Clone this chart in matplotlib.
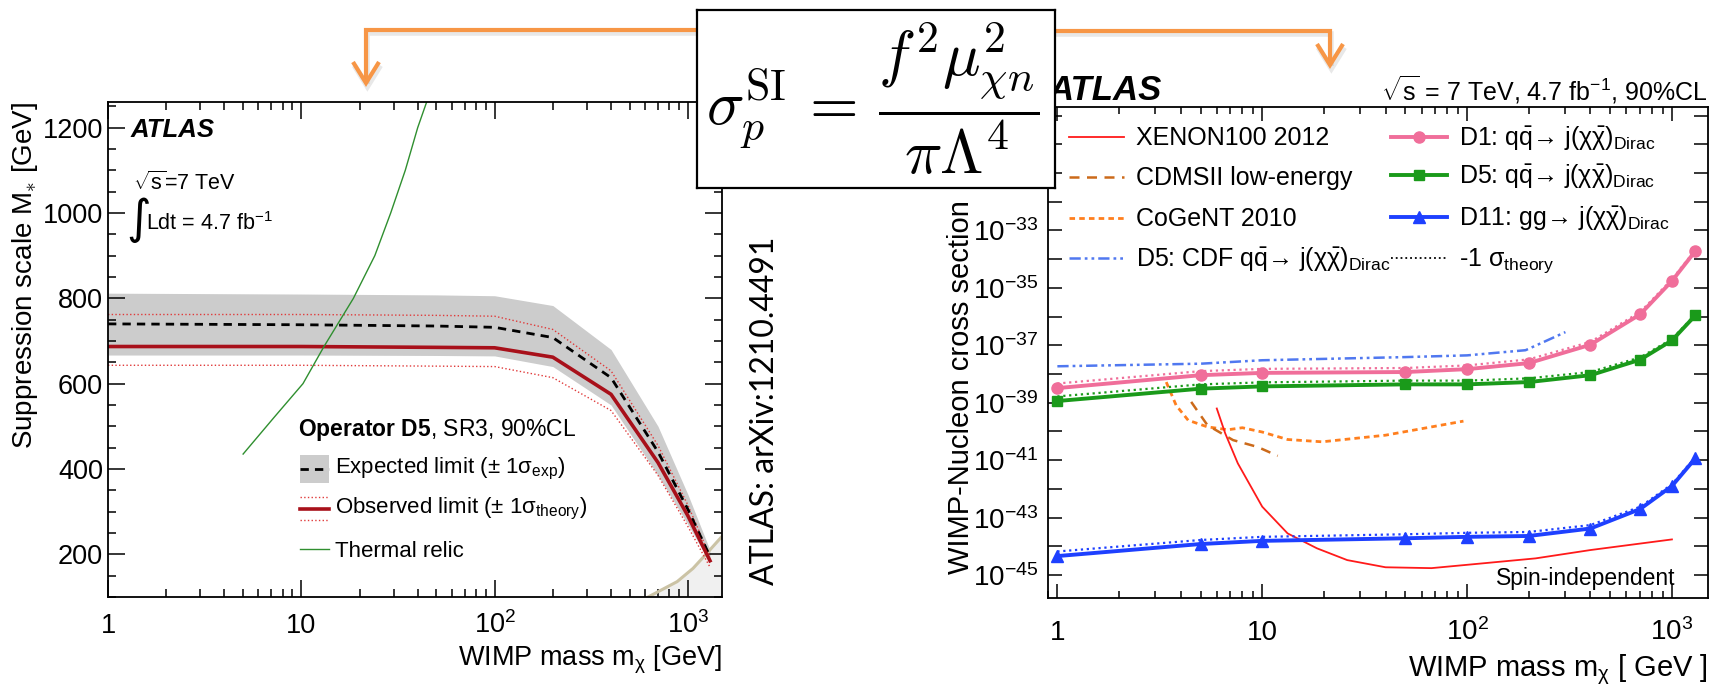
import numpy as np
import matplotlib
matplotlib.use('Agg')
import matplotlib.pyplot as plt
import matplotlib.ticker as mticker
import matplotlib.patheffects as pe
from matplotlib.lines import Line2D
from matplotlib.patches import Rectangle

W, H = 1719, 685

plt.rcParams['font.family'] = ['Liberation Sans', 'DejaVu Sans']
plt.rcParams['mathtext.fontset'] = 'custom'
plt.rcParams['mathtext.rm'] = 'Liberation Sans'
plt.rcParams['mathtext.it'] = 'Liberation Sans:italic'
plt.rcParams['mathtext.bf'] = 'Liberation Sans:bold'
plt.rcParams['mathtext.sf'] = 'Liberation Sans'

# ---- left: D5 suppression scale limits [GeV] vs WIMP mass [GeV]
d5_mass = [1, 10, 50, 100, 200, 400, 700, 1000, 1300]
d5_expected = [740, 738, 735, 732, 708, 614, 440, 305, 195]
d5_exp_up = [812, 810, 808, 806, 783, 680, 500, 340, 210]
d5_exp_dn = [667, 667, 666, 665, 640, 550, 385, 270, 180]
d5_observed = [687, 687, 685, 684, 662, 575, 415, 290, 185]
d5_obs_up = [762, 762, 760, 758, 727, 630, 455, 315, 195]
d5_obs_dn = [643, 643, 641, 640, 614, 537, 385, 265, 170]

relic_mass = [5, 7.2, 10.2, 13.1, 18.6, 24, 29, 34.5, 40, 44.5]
relic_mstar = [435, 520, 600, 687, 800, 900, 1000, 1100, 1200, 1260]

eft_mass = [622, 879, 1062, 1250, 1500]
eft_mstar = [100, 136, 167, 202, 242]

# ---- right: WIMP-nucleon cross section, log10(sigma / cm^2)
mass_pts = [1, 5, 10, 50, 100, 200, 400, 700, 1000, 1300]
d1_log = [-38.49, -38.04, -37.96, -37.93, -37.83, -37.62, -36.98, -35.92, -34.76, -33.72]
d5_log = [-38.94, -38.51, -38.43, -38.36, -38.36, -38.28, -38.04, -37.50, -36.83, -35.96]
d11_log = [-44.34, -43.92, -43.81, -43.72, -43.67, -43.64, -43.38, -42.70, -41.90, -40.94]
d1_th_log = [-38.33, -37.90, -37.82, -37.79, -37.70, -37.49, -36.88, -35.84, -34.70, -33.68]
d5_th_log = [-38.78, -38.36, -38.29, -38.23, -38.23, -38.15, -37.93, -37.42, -36.78, -35.93]
d11_th_log = [-44.18, -43.78, -43.67, -43.58, -43.53, -43.50, -43.26, -42.62, -41.84, -40.90]

cdf_mass = [1, 5, 10, 50, 100, 193, 302]
cdf_log = [-37.73, -37.64, -37.52, -37.41, -37.35, -37.17, -36.54]

xenon_mass = [6, 6.6, 7.6, 10, 13.3, 18.5, 26, 40, 67, 105, 216, 400, 1000]
xenon_log = [-39.20, -40.07, -41.11, -42.62, -43.55, -44.07, -44.48, -44.73, -44.76,
             -44.63, -44.42, -44.13, -43.76]

cdms_mass = [4.5, 5.4, 7.2, 9.5, 11.9]
cdms_log = [-38.97, -39.78, -40.30, -40.54, -40.85]

cogent_mass = [3.4, 3.8, 4.35, 5.4, 6.8, 8, 10, 13.3, 19.6, 40, 96]
cogent_log = [-38.28, -39.09, -39.61, -39.84, -39.94, -39.87, -40.02, -40.28, -40.36,
              -40.13, -39.64]

x_labels = {1: '1', 10: '10', 100: r'10$^{2}$', 1000: r'10$^{3}$'}

PINK, GREEN, BLUE = '#f06e9a', '#1a9a1a', '#1e40ff'
ORANGE = '#f79646'
CDF_DASH = (0, (4.5, 1.6, 1.1, 1.6, 1.1, 1.6))


def fx(x):
    return x / W


def fy(y):
    return 1 - y / H


def hline(x0, x1, y, **kw):
    fig.add_artist(Line2D([fx(x0), fx(x1)], [fy(y), fy(y)], transform=fig.transFigure, **kw))


def root_style(ax, major, minor):
    for s in ax.spines.values():
        s.set_linewidth(1.3)
    ax.tick_params(which='both', direction='in', top=True, right=True, width=1.1)
    ax.tick_params(which='major', length=major)
    ax.tick_params(which='minor', length=minor)


def sci_label(v, pos):
    e = int(round(np.log10(v)))
    return r'10$^{%d}$' % e if e % 2 and e <= -33 else ''


fig = plt.figure(figsize=(W / 100, H / 100), dpi=100)

# ================= left panel =================
axL = fig.add_axes([fx(108), fy(597), fx(722) - fx(108), fy(102) - fy(597)])
axL.set_xscale('log')
axL.set_xlim(1, 1500)
axL.set_ylim(100, 1260)

axL.fill_between(eft_mass, 100, eft_mstar, color='#f0f0f0', lw=0)
axL.plot(eft_mass, eft_mstar, color='#cbc3a5', lw=2.2)
axL.fill_between(d5_mass, d5_exp_dn, d5_exp_up, color='#cccccc', lw=0)
axL.plot(d5_mass, d5_obs_up, color='#e03a3a', ls=':', lw=1)
axL.plot(d5_mass, d5_obs_dn, color='#e03a3a', ls=':', lw=1)
axL.plot(d5_mass, d5_expected, color='k', ls=(0, (3, 2.2)), lw=2)
axL.plot(d5_mass, d5_observed, color='#a8101a', lw=2.6)
axL.plot(relic_mass, relic_mstar, color='#2f8f2f', lw=1)

root_style(axL, 12, 6)
axL.xaxis.set_major_locator(mticker.FixedLocator(list(x_labels)))
axL.xaxis.set_major_formatter(mticker.FuncFormatter(lambda v, p: x_labels.get(int(round(v)), '')))
axL.xaxis.set_minor_locator(mticker.LogLocator(base=10, subs=np.arange(2, 10), numticks=20))
axL.xaxis.set_minor_formatter(mticker.NullFormatter())
axL.yaxis.set_major_locator(mticker.MultipleLocator(200))
axL.yaxis.set_minor_locator(mticker.MultipleLocator(50))
axL.tick_params(axis='x', labelsize=19.5, pad=26)
axL.tick_params(axis='y', labelsize=19.5, pad=3.5)
plt.setp(axL.get_xticklabels(), va='baseline')

axL.set_xlabel(r'WIMP mass m$_{\mathrm{\chi}}$ [GeV]', fontsize=19.5, loc='right')
axL.xaxis.set_label_coords(1.0, -0.095)
axL.set_ylabel(r'Suppression scale M$_{\ast}$ [GeV]', fontsize=20, loc='top')
axL.yaxis.set_label_coords(-0.111, 1.0)

fig.text(fx(131), fy(137), 'ATLAS', fontsize=18.5, weight='bold', style='italic', va='baseline')
fig.text(fx(133), fy(190), r'$\sqrt{\mathrm{s}}$=7 TeV', fontsize=15.5, va='baseline')
fig.text(fx(126), fy(220), '∫', fontsize=34, va='center', family='DejaVu Sans')
fig.text(fx(146), fy(230), r'Ldt = 4.7 fb$^{\mathrm{-1}}$', fontsize=15.5, va='baseline')

# legend
fig.text(fx(298), fy(436), r'$\mathbf{Operator\ D5}$, SR3, 90%CL', fontsize=16.5, va='baseline')
fig.add_artist(Rectangle((fx(300), fy(483)), fx(329) - fx(300), fy(455) - fy(483),
                         transform=fig.transFigure, color='#cccccc', lw=0))
hline(300, 329, 469, color='k', ls=(0, (3, 2.2)), lw=2)
fig.text(fx(335), fy(473), 'Expected limit (± 1σ$_{\\mathrm{exp}}$)', fontsize=16, va='baseline')
hline(300, 329, 497, color='#e03a3a', ls=':', lw=1)
hline(300, 329, 509, color='#a8101a', lw=2.6)
hline(300, 329, 520, color='#e03a3a', ls=':', lw=1)
fig.text(fx(335), fy(513), 'Observed limit (± 1σ$_{\\mathrm{theory}}$)', fontsize=16, va='baseline')
hline(300, 329, 549, color='#2f8f2f', lw=1)
fig.text(fx(335), fy(557), 'Thermal relic', fontsize=16, va='baseline')

# ================= right panel =================
axR = fig.add_axes([fx(1048), fy(598), fx(1708) - fx(1048), fy(107) - fy(598)])
axR.set_xscale('log')
axR.set_yscale('log')
axR.set_xlim(0.9, 1500)
axR.set_ylim(10 ** -45.8, 10 ** -28.7)

axR.plot(cogent_mass, 10 ** np.array(cogent_log), color='#ff7f1e', ls=(0, (2, 1.5)), lw=2)
axR.plot(cdms_mass, 10 ** np.array(cdms_log), color='#cc6a1a', ls=(0, (4, 3)), lw=1.8)
axR.plot(xenon_mass, 10 ** np.array(xenon_log), color='#ff1a1a', lw=1.3)
axR.plot(cdf_mass, 10 ** np.array(cdf_log), color='#5078f0', ls=CDF_DASH, lw=1.8)

for th, main, col, mk, ms in [(d1_th_log, d1_log, PINK, 'o', 8),
                               (d5_th_log, d5_log, GREEN, 's', 7.5),
                               (d11_th_log, d11_log, BLUE, '^', 9)]:
    axR.plot(mass_pts, 10 ** np.array(th), color=col, ls=':', lw=1.6)
    axR.plot(mass_pts, 10 ** np.array(main), color=col, lw=2.8, marker=mk, ms=ms)

root_style(axR, 10, 5)
axR.xaxis.set_major_locator(mticker.FixedLocator(list(x_labels)))
axR.xaxis.set_major_formatter(mticker.FuncFormatter(lambda v, p: x_labels.get(int(round(v)), '')))
axR.xaxis.set_minor_locator(mticker.LogLocator(base=10, subs=np.arange(2, 10), numticks=20))
axR.xaxis.set_minor_formatter(mticker.NullFormatter())
axR.yaxis.set_major_locator(mticker.FixedLocator(10.0 ** np.arange(-46, -28)))
axR.yaxis.set_major_formatter(mticker.FuncFormatter(sci_label))
axR.yaxis.set_minor_locator(mticker.NullLocator())
axR.tick_params(axis='x', labelsize=20, pad=30)
axR.tick_params(axis='y', labelsize=20, pad=7)
plt.setp(axR.get_xticklabels(), va='baseline')

axR.set_xlabel(r'WIMP mass m$_{\mathrm{\chi}}$ [ GeV ]', fontsize=21, loc='right')
axR.xaxis.set_label_coords(1.0, -0.110)
axR.set_ylabel('WIMP-Nucleon cross section', fontsize=21)
axR.yaxis.set_label_coords(-0.111, 0.43)

fig.text(fx(1049), fy(100), 'ATLAS', fontsize=25, weight='bold', style='italic', va='baseline')
fig.text(fx(1707), fy(100), r'$\sqrt{\mathrm{s}}$ = 7 TeV, 4.7 fb$^{\mathrm{-1}}$, 90%CL',
         fontsize=18, ha='right', va='baseline')
fig.text(fx(1675), fy(585), 'Spin-independent', fontsize=16.5, ha='right', va='baseline')

# legend, two columns
dirac = r'→ j($\mathrm{\chi\bar{\chi}}$)$_{\mathrm{Dirac}}$'
qq = r'q$\bar{\mathrm{q}}$'
col1 = [(137, 'XENON100 2012', dict(color='#ff1a1a', lw=1.3)),
        (177, 'CDMSII low-energy', dict(color='#cc6a1a', ls=(0, (4, 3)), lw=1.8)),
        (218, 'CoGeNT 2010', dict(color='#ff7f1e', ls=(0, (2, 1.5)), lw=2)),
        (258, 'D5: CDF ' + qq + dirac, dict(color='#5078f0', ls=CDF_DASH, lw=1.8))]
col2 = [(137, 'D1: ' + qq + dirac, dict(color=PINK, lw=2.8), 'o', 8),
        (175, 'D5: ' + qq + dirac, dict(color=GREEN, lw=2.8), 's', 7.5),
        (217, 'D11: gg' + dirac, dict(color=BLUE, lw=2.8), '^', 9),
        (258, '-1 σ$_{\\mathrm{theory}}$', dict(color='k', ls=':', lw=1.3), None, 0)]
for y, label, style in col1:
    hline(1069, 1124, y, **style)
    fig.text(fx(1136), fy(y + 8), label, fontsize=18, va='baseline')
for y, label, style, mk, ms in col2:
    hline(1391, 1447, y, **style)
    if mk:
        fig.add_artist(Line2D([fx(1419)], [fy(y)], transform=fig.transFigure, ls='none',
                              marker=mk, ms=ms, color=style['color']))
    fig.text(fx(1459), fy(y + 8), label, fontsize=18, va='baseline')

# ================= arrows and formula =================
arrow_fx = [pe.SimpleLineShadow(offset=(1, -2.5), shadow_color='0.5', alpha=0.18, linewidth=4),
            pe.Normal()]
arrow_kw = dict(color=ORANGE, lw=3, solid_joinstyle='miter', solid_capstyle='butt',
                transform=fig.transFigure, path_effects=arrow_fx)
fig.add_artist(Line2D([fx(697), fx(366), fx(366)], [fy(30), fy(30), fy(81)], **arrow_kw))
fig.add_artist(Line2D([fx(353), fx(366), fx(379)], [fy(62), fy(83), fy(62)], **arrow_kw))
fig.add_artist(Line2D([fx(1055), fx(1330), fx(1330)], [fy(31), fy(31), fy(63)], **arrow_kw))
fig.add_artist(Line2D([fx(1317), fx(1330), fx(1343)], [fy(44), fy(65), fy(44)], **arrow_kw))

box = fig.add_axes([fx(697), fy(188), fx(1055) - fx(697), fy(10) - fy(188)], zorder=10)
box.set_xticks([])
box.set_yticks([])
for s in box.spines.values():
    s.set_linewidth(1.6)
box.text(0.49, 0.5, r'$\sigma_p^{\rm SI}\,=\,\dfrac{f^2\mu_{\chi n}^2}{\pi\Lambda^4}$',
         math_fontfamily='cm', fontsize=45, ha='center', va='center', transform=box.transAxes)

fig.text(fx(765), fy(411), 'ATLAS: arXiv:1210.4491', rotation=90, ha='center', va='center',
         family='Lato', fontsize=23)

fig.savefig('out.png', dpi=100)
